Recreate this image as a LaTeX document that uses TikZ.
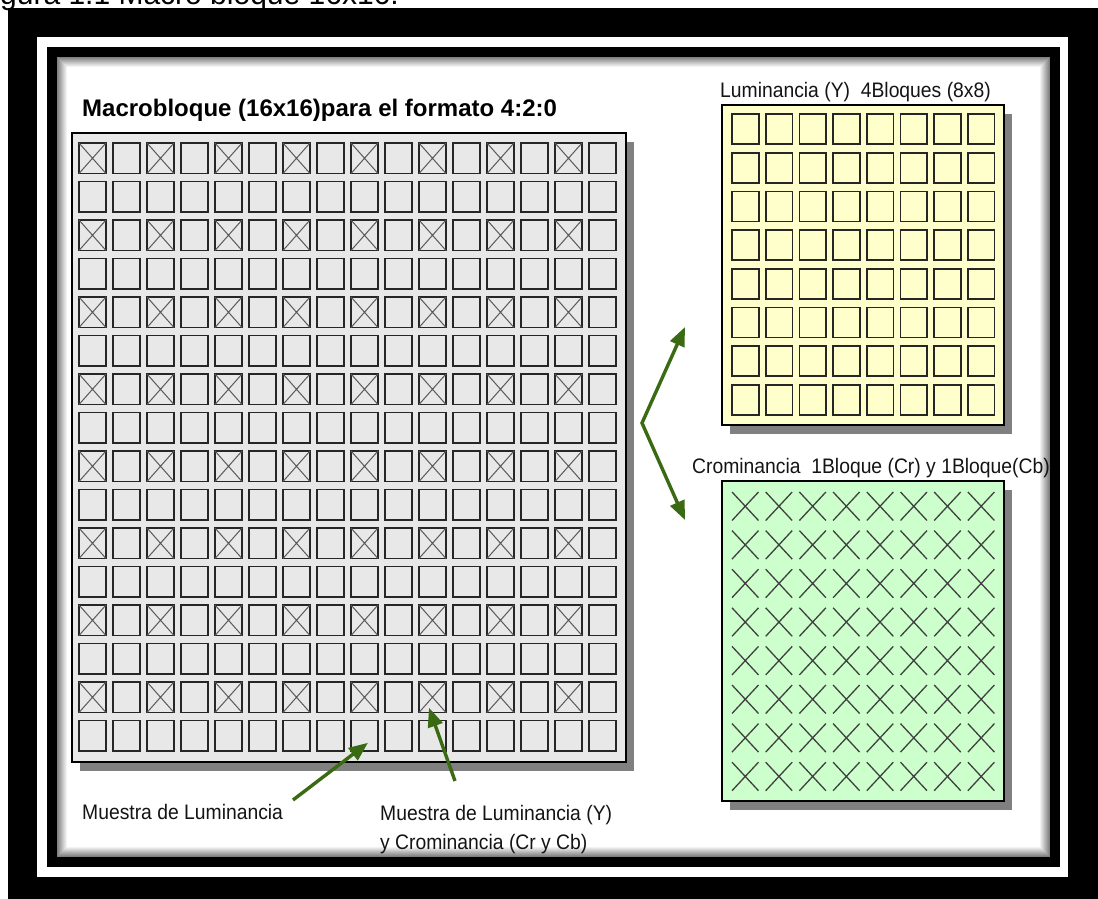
\documentclass[tikz,border=0pt]{standalone}
\usepackage{fontspec}
\setmainfont{Liberation Sans}
\newfontfamily\labfont[FakeStretch=0.92]{Liberation Sans}
\usetikzlibrary{arrows.meta,calc,shadows}
\definecolor{arrgreen}{HTML}{3A6B12}
\definecolor{panelgray}{HTML}{E8E8E8}
\definecolor{panelyellow}{HTML}{FFFFCC}
\definecolor{panelgreen}{HTML}{CCFFCC}
\definecolor{shadowgray}{HTML}{808080}
\begin{document}
\begin{tikzpicture}[x=1pt,y=-1pt,
  panel/.style={draw=black, line width=1.2pt, inner sep=0pt, outer sep=0pt, anchor=north west,
    drop shadow={shadow xshift=8pt, shadow yshift=-9pt, fill=shadowgray, opacity=1}},
  mcell/.style={draw=black!85, line width=1.7pt, inner sep=0pt, outer sep=0pt, anchor=north west,
    minimum width=27pt, minimum height=30.5pt},
  ycell/.style={mcell, minimum width=26.7pt, minimum height=30pt},
  gcell/.style={inner sep=0pt, outer sep=0pt, anchor=north west, minimum width=26.5pt, minimum height=28.5pt},
  mx/.style={draw=black!65, line width=1pt},
  gx/.style={draw=black!75, line width=1.3pt},
  garrow/.style={draw=arrgreen, line width=3.4pt, -{Triangle[length=19pt,width=15pt]}},
  lab/.style={inner sep=0pt, anchor=base west, text=black!92, font=\labfont\fontsize{21}{25}\selectfont}]
\useasboundingbox (0,0) rectangle (1098,899);
\clip (0,0) rectangle (1098,899);
% caption cut off at the top
\node[inner sep=0pt, anchor=base west, font=\fontsize{30}{32}\selectfont] (figcap) at (-25,5) {Figura 1.1 Macro bloque 16x16.};
% frame
\fill[black] (8,8) rectangle (1098,899);
\fill[white] (37,37) rectangle (1068,877);
\fill[black] (47,47) rectangle (1060,867);
\fill[black!50] (57,57) rectangle (1050,857);
\foreach \i in {1,...,10}{
  \pgfmathtruncatemacro\g{50-5*\i}
  \fill[black!\g] ({57+\i},{57+\i}) rectangle ({1050-\i},{857-\i});
}
% title
\node[inner sep=0pt, anchor=base west, font=\bfseries\fontsize{24}{28}\selectfont] (title) at (82,117) {Macrobloque (16x16)para el formato 4:2:0};
% macroblock panel
\node[panel, fill=panelgray, minimum width=554pt, minimum height=629pt] (macro) at (72,133) {};
\foreach \r in {0,...,15}{
  \foreach \c in {0,...,15}{
    \node[mcell] (m-\r-\c) at ({79+34*\c},{143+38.5*\r}) {};
  }
}
\foreach \r in {0,2,...,14}{
  \foreach \c in {0,2,...,14}{
    \draw[mx] (m-\r-\c.north west) -- (m-\r-\c.south east)
              (m-\r-\c.north east) -- (m-\r-\c.south west);
  }
}
% luminance panel
\node[lab] (ylab) at (720,97) {Luminancia (Y)\ \ 4Bloques (8x8)};
\node[panel, fill=panelyellow, minimum width=282pt, minimum height=320pt] (luma) at (722,105) {};
\foreach \r in {0,...,7}{
  \foreach \c in {0,...,7}{
    \node[ycell] (y-\r-\c) at ({732+33.7*\c},{114+38.7*\r}) {};
  }
}
% chrominance panel
\node[lab] (clab) at (692,473) {Crominancia\ \ 1Bloque (Cr) y 1Bloque(Cb)};
\node[panel, fill=panelgreen, minimum width=282pt, minimum height=320pt] (chroma) at (722,481) {};
\foreach \r in {0,...,7}{
  \foreach \c in {0,...,7}{
    \node[gcell] (g-\r-\c) at ({732+33.7*\c},{492+38.6*\r}) {};
    \draw[gx] (g-\r-\c.north west) -- (g-\r-\c.south east)
              (g-\r-\c.north east) -- (g-\r-\c.south west);
  }
}
% fork arrows
\coordinate (fork) at (642,423);
\coordinate (ytip) at (685,327);
\coordinate (ctip) at (685,520);
\draw[garrow, {Triangle[length=19pt,width=15pt]}-{Triangle[length=19pt,width=15pt]}] (ytip) -- (fork) -- (ctip);
% sample labels and arrows
\node[lab] (lab1) at (82,819) {Muestra de Luminancia};
\node[lab] (lab2) at (380,820) {Muestra de Luminancia (Y)};
\node[lab] (lab3) at (380,849) {y Crominancia (Cr y Cb)};
\coordinate (tail1) at (293,800);
\coordinate (tail2) at (455,781);
\draw[garrow] (tail1) -- ([shift={(3.5,7)}]m-15-8.center);
\draw[garrow] (tail2) -- ([shift={(-3.5,10.5)}]m-14-10.center);
\end{tikzpicture}
\end{document}
